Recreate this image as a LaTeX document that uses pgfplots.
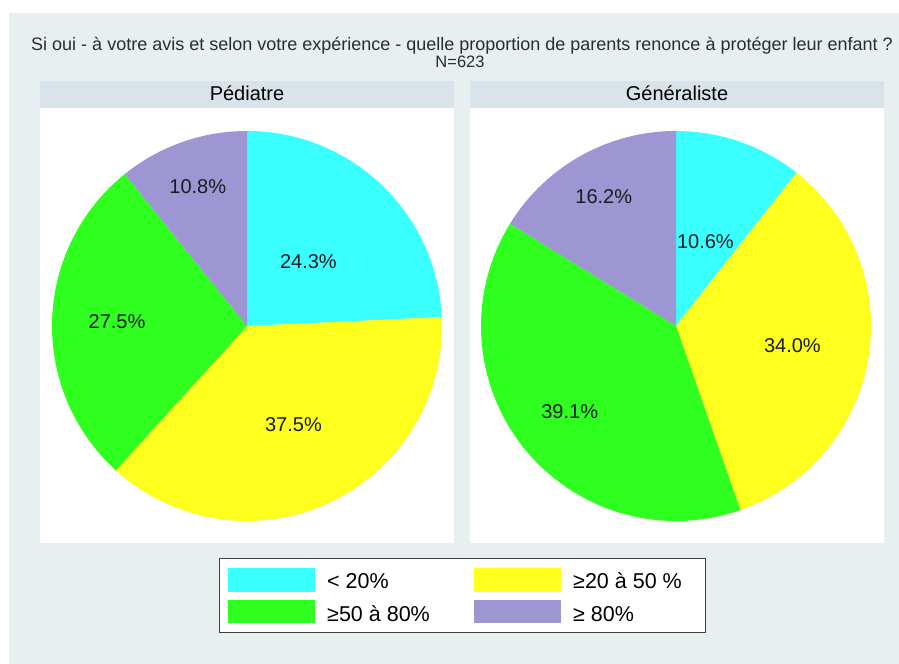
\documentclass[border=0pt]{standalone}
\usepackage{pgfplots}
\usepackage{pgfplotstable}
\pgfplotsset{compat=1.18}
\usepackage{fontspec}
\setmainfont{Liberation Sans}
\definecolor{bgc}{RGB}{232,239,241}
\definecolor{hdr}{RGB}{216,228,234}
\definecolor{txt}{RGB}{40,44,52}
\definecolor{lab}{RGB}{25,28,32}
\definecolor{c0}{RGB}{58,255,255}
\definecolor{c1}{RGB}{255,255,30}
\definecolor{c2}{RGB}{46,255,30}
\definecolor{c3}{RGB}{157,150,210}
\newcommand\labfont{\fontsize{20bp}{24bp}\selectfont}

% v = share (%), s = cumulative share before the slice, lr = label radius
\pgfplotstableread{
v s lr
24.3 0 0.456
37.5 24.3 0.56
27.5 61.8 0.667
10.8 89.3 0.76
}\tabP
\pgfplotstableread{
v s lr
10.6 0 0.46
34.0 10.6 0.605
39.1 44.6 0.70
16.2 83.7 0.76
}\tabG

\newcommand\drawpie[1]{%
  \pgfplotstablegetelem{3}{v}\of#1\let\lv\pgfplotsretval
  \pgfplotstablegetelem{3}{s}\of#1\let\ls\pgfplotsretval
  \pgfmathsetmacro\tot{\lv+\ls}%
  \pgfplotsinvokeforeach{0,1,2,3}{%
    \pgfplotstablegetelem{##1}{v}\of#1\let\pv\pgfplotsretval
    \pgfplotstablegetelem{##1}{s}\of#1\let\ps\pgfplotsretval
    \pgfmathsetmacro\aS{90-360*(\ps/\tot)}%
    \pgfmathsetmacro\aE{90-360*((\ps+\pv)/\tot)}%
    \pgfmathsetmacro\sx{cos(\aS)}%
    \pgfmathsetmacro\sy{sin(\aS)}%
    \edef\temp{\noexpand\fill[c##1] (axis cs:0,0) -- (axis cs:\sx,\sy) arc[start angle=\aS, end angle=\aE, radius=195bp] -- cycle;}%
    \temp
  }%
  \pgfplotsinvokeforeach{0,1,2,3}{%
    \pgfplotstablegetelem{##1}{v}\of#1\let\pv\pgfplotsretval
    \pgfplotstablegetelem{##1}{s}\of#1\let\ps\pgfplotsretval
    \pgfplotstablegetelem{##1}{lr}\of#1\let\plr\pgfplotsretval
    \pgfmathsetmacro\aM{90-360*((\ps+\pv/2)/\tot)}%
    \pgfmathsetmacro\lx{\plr*cos(\aM)}%
    \pgfmathsetmacro\ly{\plr*sin(\aM)}%
    \edef\temp{\noexpand\node[text=lab,font=\noexpand\labfont,inner sep=0pt] at (axis cs:\lx,\ly) {\pv\noexpand\%};}%
    \temp
  }%
}

\pgfplotsset{pie/.style={hide axis, clip=false, x=195bp, y=195bp,
  xmin=-1, xmax=1, ymin=-1, ymax=1, anchor=center}}

\begin{document}
\begin{tikzpicture}[x=1bp,y=1bp]
\path[use as bounding box] (0,0) rectangle (899,664);
\fill[white] (0,0) rectangle (899,664);
\fill[bgc] (9,0) rectangle (899,651);
% panels
\fill[hdr] (40,556) rectangle (454,583);
\fill[white] (40,121) rectangle (454,556);
\fill[hdr] (470,556) rectangle (884,583);
\fill[white] (470,121) rectangle (884,556);
% titles
\node[anchor=base,text=txt,inner sep=0pt,font=\fontsize{18bp}{21bp}\selectfont] at (462,613) {Si oui - à votre avis et selon votre expérience - quelle proportion de parents renonce à protéger leur enfant ?};
\node[anchor=base,text=txt,inner sep=0pt,font=\fontsize{16.5bp}{19bp}\selectfont] at (460,596) {N=623};
\node[anchor=base,text=black,inner sep=0pt,font=\fontsize{20bp}{24bp}\selectfont] at (247,563) {Pédiatre};
\node[anchor=base,text=black,inner sep=0pt,font=\fontsize{20bp}{24bp}\selectfont] at (677,563) {Généraliste};

\begin{axis}[pie, at={(247bp,338bp)}]
\drawpie{\tabP}
\end{axis}
\begin{axis}[pie, at={(676bp,338bp)}]
\drawpie{\tabG}
\end{axis}

% legend
\draw[fill=white,draw=black!75,line width=1bp] (219,31) rectangle (705,105);
\fill[c0] (228,72) rectangle (315,96);
\fill[c2] (228,41) rectangle (315,64);
\fill[c1] (474,72) rectangle (561,96);
\fill[c3] (474,41) rectangle (561,64);
\begin{scope}[every node/.style={anchor=base west,inner sep=0pt,text=black,font=\fontsize{21.5bp}{25bp}\selectfont}]
\node at (327,75) {< 20\%};
\node at (327,42) {≥50 à 80\%};
\node at (573,75) {≥20 à 50 \%};
\node at (573,42) {≥ 80\%};
\end{scope}
\end{tikzpicture}
\end{document}
